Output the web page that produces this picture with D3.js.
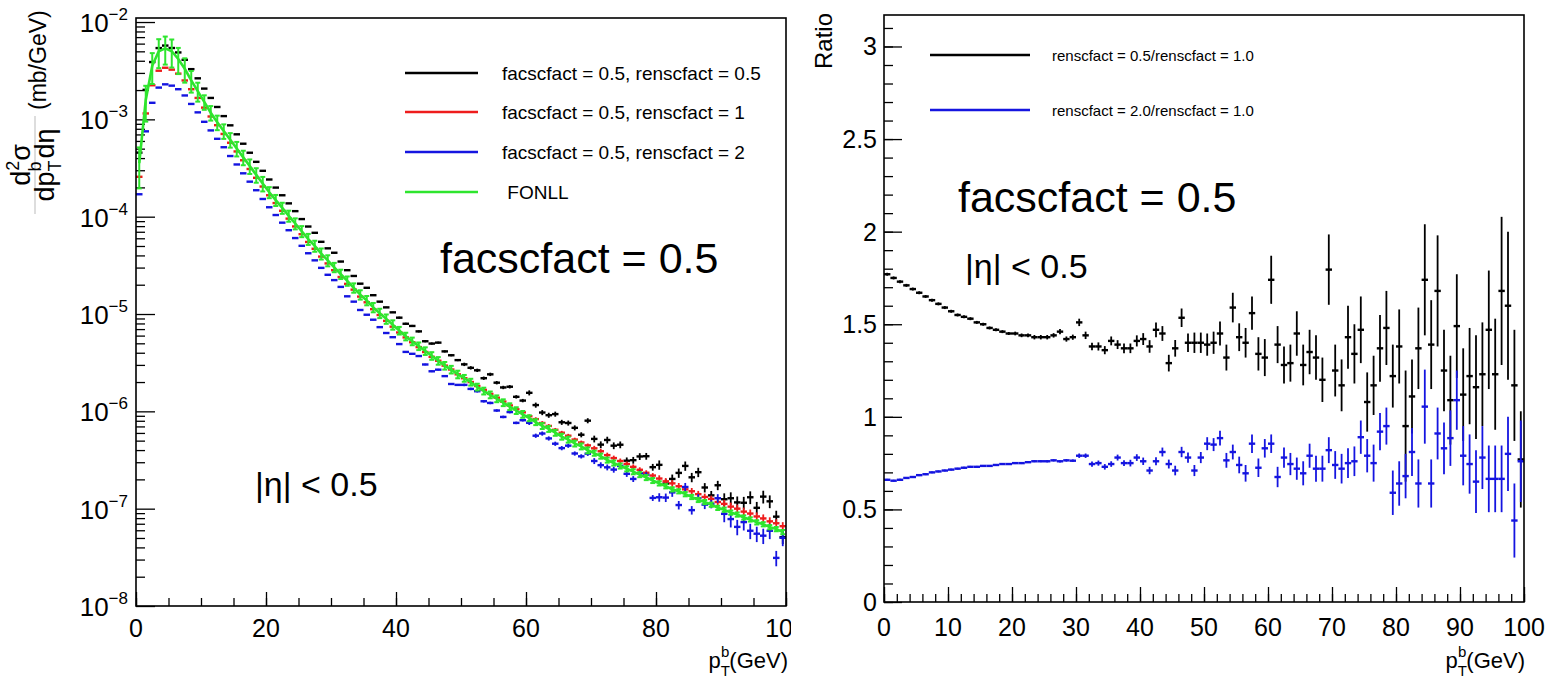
<!DOCTYPE html>
<html>
<head>
<meta charset="utf-8">
<script src="https://cdn.jsdelivr.net/npm/d3@7"></script>
<style>
  body { margin: 0; background: #fff; }
  text { font-family: "Liberation Sans", Arial, sans-serif; fill: #000; }
</style>
</head>
<body>
<div id="chart"></div>
<script>
// ---- data: 1 GeV bins of pT, 0..100 ----
const binLow = d3.range(0, 100);

// d2sigma/dpT deta (mb/GeV), facscfact = 0.5
const blackSpec = [4.55e-4,2.01e-3,3.88e-3,5.40e-3,5.73e-3,5.41e-3,4.87e-3,4.09e-3,3.28e-3,2.64e-3,
  2.07e-3,1.66e-3,1.34e-3,1.08e-3,8.68e-4,7.02e-4,5.62e-4,4.54e-4,3.66e-4,2.96e-4,
  2.41e-4,1.99e-4,1.66e-4,1.37e-4,1.14e-4,9.45e-5,7.92e-5,6.83e-5,5.52e-5,4.73e-5,
  4.26e-5,3.46e-5,2.82e-5,2.46e-5,2.05e-5,1.86e-5,1.56e-5,1.34e-5,1.17e-5,1.04e-5,
  9.17e-6,7.94e-6,7.54e-6,6.63e-6,5.25e-6,4.97e-6,5.08e-6,4.13e-6,3.77e-6,3.36e-6,
  3.04e-6,2.80e-6,2.64e-6,2.19e-6,2.40e-6,1.97e-6,1.76e-6,1.79e-6,1.41e-6,1.29e-6,
  1.55e-6,1.16e-6,9.72e-7,9.13e-7,9.37e-7,7.72e-7,7.59e-7,6.77e-7,5.75e-7,8.02e-7,
  5.21e-7,4.55e-7,5.08e-7,4.44e-7,4.54e-7,3.11e-7,3.15e-7,3.44e-7,3.46e-7,2.67e-7,
  2.82e-7,1.81e-7,2.02e-7,2.33e-7,2.75e-7,2.10e-7,2.37e-7,1.65e-7,1.37e-7,1.74e-7,
  1.25e-7,1.28e-7,1.16e-7,1.15e-7,1.31e-7,1.02e-7,1.33e-7,1.19e-7,8.28e-8,5.09e-8];

const redSpec = [2.57e-4,1.15e-3,2.24e-3,3.16e-3,3.39e-3,3.24e-3,2.95e-3,2.51e-3,2.04e-3,1.66e-3,
  1.32e-3,1.07e-3,8.71e-4,7.08e-4,5.75e-4,4.68e-4,3.80e-4,3.09e-4,2.51e-4,2.04e-4,
  1.66e-4,1.38e-4,1.15e-4,9.55e-5,7.94e-5,6.61e-5,5.50e-5,4.68e-5,3.89e-5,3.31e-5,
  2.82e-5,2.40e-5,2.04e-5,1.78e-5,1.51e-5,1.32e-5,1.12e-5,9.77e-6,8.51e-6,7.41e-6,
  6.46e-6,5.75e-6,5.13e-6,4.57e-6,4.07e-6,3.63e-6,3.31e-6,2.95e-6,2.69e-6,2.40e-6,
  2.19e-6,2.00e-6,1.82e-6,1.66e-6,1.51e-6,1.38e-6,1.26e-6,1.15e-6,1.05e-6,9.77e-7,
  8.91e-7,8.32e-7,7.59e-7,7.08e-7,6.46e-7,6.03e-7,5.62e-7,5.13e-7,4.79e-7,4.47e-7,
  4.17e-7,3.89e-7,3.55e-7,3.31e-7,3.09e-7,2.88e-7,2.69e-7,2.51e-7,2.34e-7,2.19e-7,
  2.04e-7,1.91e-7,1.82e-7,1.70e-7,1.58e-7,1.51e-7,1.41e-7,1.32e-7,1.26e-7,1.17e-7,
  1.12e-7,1.05e-7,1.00e-7,9.33e-8,8.91e-8,8.32e-8,7.94e-8,7.41e-8,7.08e-8,6.61e-8];

const blueSpec = [1.70e-4,7.53e-4,1.48e-3,2.12e-3,2.29e-3,2.22e-3,2.04e-3,1.76e-3,1.44e-3,1.18e-3,
  9.44e-4,7.70e-4,6.31e-4,5.17e-4,4.20e-4,3.44e-4,2.79e-4,2.29e-4,1.87e-4,1.52e-4,
  1.25e-4,1.04e-4,8.68e-5,7.26e-5,6.03e-5,5.02e-5,4.21e-5,3.56e-5,2.98e-5,2.53e-5,
  2.23e-5,1.90e-5,1.52e-5,1.34e-5,1.10e-5,9.83e-6,8.74e-6,7.33e-6,6.38e-6,5.78e-6,
  4.91e-6,4.08e-6,3.90e-6,3.70e-6,3.03e-6,2.58e-6,2.68e-6,2.30e-6,1.91e-6,1.87e-6,
  1.87e-6,1.70e-6,1.61e-6,1.27e-6,1.22e-6,1.02e-6,8.76e-7,9.83e-7,7.61e-7,8.11e-7,
  7.62e-7,5.62e-7,5.92e-7,5.27e-7,4.65e-7,4.19e-7,4.44e-7,3.69e-7,3.45e-7,3.67e-7,
  3.09e-7,2.80e-7,2.66e-7,2.52e-7,2.75e-7,2.28e-7,2.02e-7,2.31e-7,2.22e-7,1.29e-7,
  1.31e-7,1.30e-7,1.47e-7,1.09e-7,1.67e-7,9.66e-8,1.28e-7,1.10e-7,1.12e-7,1.28e-7,
  8.85e-8,7.82e-8,6.50e-8,7.28e-8,5.93e-8,5.53e-8,5.28e-8,5.93e-8,3.12e-8,5.02e-8];

const fonllSpec = [3.55e-4,1.58e-3,3.55e-3,5.01e-3,5.37e-3,5.01e-3,4.17e-3,3.31e-3,2.51e-3,1.95e-3,
  1.51e-3,1.17e-3,9.33e-4,7.59e-4,6.17e-4,5.01e-4,4.07e-4,3.31e-4,2.69e-4,2.19e-4,
  1.78e-4,1.48e-4,1.23e-4,1.02e-4,8.51e-5,7.08e-5,5.89e-5,5.01e-5,4.17e-5,3.55e-5,
  3.02e-5,2.57e-5,2.19e-5,1.86e-5,1.58e-5,1.38e-5,1.17e-5,1.02e-5,8.91e-6,7.76e-6,
  6.76e-6,5.89e-6,5.25e-6,4.68e-6,4.17e-6,3.72e-6,3.31e-6,2.95e-6,2.69e-6,2.40e-6,
  2.19e-6,2.00e-6,1.78e-6,1.62e-6,1.48e-6,1.35e-6,1.23e-6,1.12e-6,1.02e-6,9.33e-7,
  8.51e-7,7.76e-7,7.08e-7,6.61e-7,6.03e-7,5.50e-7,5.13e-7,4.68e-7,4.37e-7,3.98e-7,
  3.72e-7,3.47e-7,3.16e-7,2.95e-7,2.75e-7,2.57e-7,2.40e-7,2.24e-7,2.09e-7,1.95e-7,
  1.82e-7,1.70e-7,1.58e-7,1.51e-7,1.41e-7,1.32e-7,1.23e-7,1.17e-7,1.10e-7,1.02e-7,
  9.77e-8,9.12e-8,8.71e-8,8.13e-8,7.76e-8,7.24e-8,6.92e-8,6.46e-8,6.17e-8,5.75e-8];

// relative errors of the spectra, per group of 10 bins
const blackRelErr = [0.005,0.005,0.008,0.015,0.025,0.04,0.06,0.08,0.11,0.15];
const redRelErr   = [0.004,0.004,0.006,0.012,0.02,0.03,0.045,0.06,0.08,0.1];
const blueRelErr  = [0.004,0.004,0.006,0.012,0.02,0.03,0.05,0.07,0.1,0.18];
const fonllRelErrLow = [0.45,0.4,0.35,0.33,0.32,0.32,0.3,0.28,0.25,0.22];
const fonllRelErr    = [0.3,0.17,0.13,0.11,0.09,0.08,0.07,0.06,0.05,0.05];

// ratios (right panel)
const ratioBlack = [1.77,1.75,1.73,1.71,1.69,1.67,1.65,1.63,1.61,1.59,
  1.57,1.55,1.54,1.53,1.51,1.50,1.48,1.47,1.46,1.45,
  1.45,1.44,1.44,1.43,1.43,1.43,1.44,1.46,1.42,1.43,
  1.51,1.44,1.38,1.38,1.36,1.41,1.39,1.37,1.37,1.41,
  1.42,1.38,1.47,1.45,1.29,1.37,1.535,1.40,1.40,1.40,
  1.39,1.40,1.45,1.32,1.59,1.43,1.40,1.56,1.34,1.32,
  1.74,1.39,1.28,1.29,1.45,1.28,1.35,1.32,1.20,1.795,
  1.25,1.17,1.43,1.34,1.47,1.08,1.17,1.37,1.48,1.22,
  1.38,0.95,1.11,1.37,1.74,1.39,1.68,1.25,1.09,1.49,
  1.12,1.22,1.16,1.23,1.47,1.23,1.68,1.60,1.17,0.77];
const ratioBlackErr = [0.008,0.008,0.008,0.008,0.008,0.008,0.008,0.008,0.008,0.008,
  0.008,0.008,0.008,0.008,0.008,0.008,0.008,0.008,0.008,0.008,
  0.01,0.01,0.01,0.012,0.012,0.012,0.012,0.014,0.014,0.014,
  0.02,0.02,0.02,0.022,0.022,0.024,0.024,0.026,0.026,0.03,
  0.032,0.034,0.04,0.04,0.045,0.045,0.05,0.05,0.055,0.055,
  0.06,0.06,0.065,0.07,0.08,0.075,0.08,0.09,0.09,0.1,
  0.13,0.1,0.1,0.1,0.12,0.11,0.12,0.12,0.12,0.19,
  0.14,0.14,0.17,0.16,0.18,0.16,0.16,0.18,0.2,0.17,
  0.2,0.3,0.2,0.22,0.3,0.24,0.3,0.22,0.24,0.28,
  0.25,0.26,0.28,0.28,0.32,0.3,0.4,0.4,0.3,0.26];
const ratioBlue = [0.66,0.655,0.66,0.67,0.675,0.685,0.69,0.70,0.705,0.71,
  0.715,0.72,0.725,0.73,0.73,0.735,0.735,0.74,0.745,0.745,
  0.75,0.75,0.755,0.76,0.76,0.76,0.765,0.76,0.765,0.763,
  0.79,0.79,0.745,0.75,0.73,0.745,0.78,0.75,0.75,0.78,
  0.76,0.71,0.76,0.81,0.745,0.71,0.81,0.78,0.71,0.78,
  0.855,0.85,0.885,0.765,0.81,0.74,0.695,0.855,0.725,0.83,
  0.855,0.675,0.78,0.745,0.72,0.695,0.79,0.72,0.72,0.82,
  0.74,0.72,0.75,0.76,0.89,0.79,0.75,0.92,0.95,0.59,
  0.64,0.68,0.81,0.64,1.055,0.64,0.91,0.83,0.885,1.09,
  0.79,0.745,0.65,0.78,0.665,0.665,0.665,0.80,0.44,0.76];
const ratioBlueErr = [0.005,0.005,0.005,0.005,0.005,0.005,0.005,0.005,0.005,0.005,
  0.005,0.005,0.005,0.005,0.005,0.005,0.005,0.005,0.005,0.005,
  0.005,0.005,0.005,0.005,0.005,0.006,0.006,0.006,0.007,0.007,
  0.012,0.012,0.014,0.014,0.015,0.015,0.016,0.016,0.018,0.018,
  0.02,0.02,0.022,0.024,0.024,0.026,0.028,0.028,0.03,0.03,
  0.035,0.035,0.04,0.04,0.04,0.045,0.045,0.05,0.05,0.05,
  0.05,0.055,0.055,0.06,0.06,0.065,0.065,0.07,0.07,0.07,
  0.075,0.08,0.08,0.08,0.09,0.09,0.1,0.1,0.1,0.12,
  0.12,0.12,0.13,0.13,0.2,0.13,0.14,0.14,0.15,0.16,
  0.16,0.16,0.17,0.17,0.18,0.18,0.18,0.2,0.2,0.22];

const legendLeft = ["facscfact = 0.5, renscfact = 0.5", "facscfact = 0.5, renscfact = 1",
  "facscfact = 0.5, renscfact = 2", " FONLL"];
const legendRight = ["renscfact = 0.5/renscfact = 1.0", "renscfact = 2.0/renscfact = 1.0"];
const xTicksLeft = [0, 20, 40, 60, 80, 100];
const xTicksRight = [0, 10, 20, 30, 40, 50, 60, 70, 80, 90, 100];
const yTicksRight = [0, 0.5, 1, 1.5, 2, 2.5, 3];
const yDecades = [-8, -7, -6, -5, -4, -3, -2];

const colBlack = "#000000", colRed = "#ee1c1c", colBlue = "#1515e0", colGreen = "#2ee52e";

// ---- svg ----
const svg = d3.select("#chart").append("svg").attr("width", 1553).attr("height", 684);
svg.append("rect").attr("width", 1553).attr("height", 684).attr("fill", "#fff");
svg.append("clipPath").attr("id", "clipL").append("rect")
  .attr("x", 0).attr("y", 0).attr("width", 791).attr("height", 684);

// ---------------- left panel ----------------
const xL = d3.scaleLinear().domain([0, 100]).range([136, 786]);
const yL = d3.scaleLog().domain([1e-8, 1.1e-2]).range([606, 18]);
const gL = svg.append("g").attr("clip-path", "url(#clipL)");

function tickAxis(g, axis) {
  g.call(axis);
  g.select(".domain").remove();
  g.selectAll("line").attr("stroke", "#000").attr("stroke-width", 1.3);
}

// x ticks
tickAxis(gL.append("g").attr("transform", "translate(0,606)"),
  d3.axisBottom(xL).tickValues(d3.range(0, 101, 5)).tickSize(-8).tickFormat(""));
tickAxis(gL.append("g").attr("transform", "translate(0,606)"),
  d3.axisBottom(xL).tickValues(xTicksLeft).tickSize(-14).tickFormat(""));
gL.append("g").selectAll("text").data(xTicksLeft).join("text")
  .attr("x", d => xL(d)).attr("y", 637).attr("text-anchor", "middle")
  .attr("font-size", 25).text(d => d);

// y ticks (log)
const minorLog = [];
yDecades.slice(0, -1).forEach(k => { for (let m = 2; m <= 9; m++) minorLog.push(m * Math.pow(10, k)); });
tickAxis(gL.append("g").attr("transform", "translate(136,0)"),
  d3.axisLeft(yL).tickValues(minorLog).tickSize(-9).tickFormat(""));
tickAxis(gL.append("g").attr("transform", "translate(136,0)"),
  d3.axisLeft(yL).tickValues(yDecades.map(k => Math.pow(10, k))).tickSize(-19).tickFormat(""));
const yLab = gL.append("g").selectAll("text").data(yDecades).join("text")
  .attr("x", 128).attr("y", d => yL(Math.pow(10, d)) + 10)
  .attr("text-anchor", "end").attr("font-size", 26);
yLab.append("tspan").text("10");
yLab.append("tspan").attr("dy", -12).attr("font-size", 17).text(d => "\u2212" + (-d));

// data
function drawHist(g, xs, ys, vals, errOf, color, floor) {
  const grp = g.append("g").attr("stroke", color).attr("fill", "none");
  grp.selectAll("line.h").data(vals).join("line").attr("class", "h")
    .attr("x1", (d, i) => xs(binLow[i])).attr("x2", (d, i) => xs(binLow[i] + 1))
    .attr("y1", d => ys(d)).attr("y2", d => ys(d)).attr("stroke-width", 2.4);
  grp.selectAll("line.v").data(vals).join("line").attr("class", "v")
    .attr("x1", (d, i) => xs(binLow[i] + 0.5)).attr("x2", (d, i) => xs(binLow[i] + 0.5))
    .attr("y1", (d, i) => ys(d + errOf(d, i)))
    .attr("y2", (d, i) => ys(Math.max(d - errOf(d, i), floor)))
    .attr("stroke-width", 1.8);
}

const pad = 1e-9;
drawHist(gL, xL, yL, blackSpec, (d, i) => d * blackRelErr[Math.floor(i / 10)], colBlack, pad);
drawHist(gL, xL, yL, redSpec, (d, i) => d * redRelErr[Math.floor(i / 10)], colRed, pad);
drawHist(gL, xL, yL, blueSpec, (d, i) => d * blueRelErr[Math.floor(i / 10)], colBlue, pad);

// FONLL: line + error bars with caps
const fonllErr = (d, i) => d * (i < 10 ? fonllRelErrLow[i] : fonllRelErr[Math.floor(i / 10)]);
const gF = gL.append("g").attr("stroke", colGreen).attr("fill", "none");
gF.append("path").datum(fonllSpec).attr("stroke-width", 2.6)
  .attr("d", d3.line().x((d, i) => xL(binLow[i] + 0.5)).y(d => yL(d)));
gF.selectAll("line.v").data(fonllSpec).join("line").attr("class", "v")
  .attr("x1", (d, i) => xL(binLow[i] + 0.5)).attr("x2", (d, i) => xL(binLow[i] + 0.5))
  .attr("y1", (d, i) => yL(d + fonllErr(d, i))).attr("y2", (d, i) => yL(d - fonllErr(d, i)))
  .attr("stroke-width", 2);
["up", "dn"].forEach(side => {
  gF.selectAll("line.c" + side).data(fonllSpec).join("line").attr("class", "c" + side)
    .attr("x1", (d, i) => xL(binLow[i] + 0.5) - 2.5).attr("x2", (d, i) => xL(binLow[i] + 0.5) + 2.5)
    .attr("y1", (d, i) => yL(side === "up" ? d + fonllErr(d, i) : d - fonllErr(d, i)))
    .attr("y2", (d, i) => yL(side === "up" ? d + fonllErr(d, i) : d - fonllErr(d, i)))
    .attr("stroke-width", 2);
});

// frame
gL.append("rect").attr("x", 136).attr("y", 18).attr("width", 650).attr("height", 588)
  .attr("fill", "none").attr("stroke", "#000").attr("stroke-width", 1.6);

// legend
const legY = [73, 112, 152, 192];
const legCol = [colBlack, colRed, colBlue, colGreen];
legendLeft.forEach((t, i) => {
  gL.append("line").attr("x1", 405).attr("x2", 478).attr("y1", legY[i]).attr("y2", legY[i])
    .attr("stroke", legCol[i]).attr("stroke-width", 2.6);
  gL.append("text").attr("x", 502).attr("y", legY[i] + 7).attr("font-size", 19)
    .attr("xml:space", "preserve").text(t);
});

gL.append("text").attr("x", 440).attr("y", 273).attr("font-size", 43).text("facscfact = 0.5");
gL.append("text").attr("x", 255).attr("y", 496).attr("font-size", 34).text("|\u03b7| < 0.5");

// axis titles
const xtL = gL.append("text").attr("x", 788).attr("y", 668).attr("text-anchor", "end").attr("font-size", 22);
xtL.append("tspan").text("p");
xtL.append("tspan").attr("dy", 8).attr("font-size", 15).text("T");
xtL.append("tspan").attr("dx", -9).attr("dy", -19).attr("font-size", 15).text("b");
xtL.append("tspan").attr("dy", 11).text("(GeV)");

const ytL = svg.append("g").attr("transform", "translate(35,214) rotate(-90)");
ytL.append("line").attr("x1", 0).attr("x2", 98).attr("y1", 0).attr("y2", 0)
  .attr("stroke", "#bbb").attr("stroke-width", 1);
const num = ytL.append("text").attr("x", 49).attr("y", -5).attr("text-anchor", "middle").attr("font-size", 27);
num.append("tspan").text("d");
num.append("tspan").attr("dy", -11).attr("font-size", 18).text("2");
num.append("tspan").attr("dy", 11).text("\u03c3");
const den = ytL.append("text").attr("x", 49).attr("y", 19).attr("text-anchor", "middle").attr("font-size", 27);
den.append("tspan").text("dp");
den.append("tspan").attr("dy", 7).attr("font-size", 18).text("T");
den.append("tspan").attr("dx", -11).attr("dy", -20).attr("font-size", 18).text("b");
den.append("tspan").attr("dx", 3).attr("dy", 13).text("d\u03b7");
ytL.append("text").attr("x", 104).attr("y", 11).attr("font-size", 23).text("(mb/GeV)");

// ---------------- right panel ----------------
const xR = d3.scaleLinear().domain([0, 100]).range([884, 1524]);
const yR = d3.scaleLinear().domain([0, 3.17]).range([602, 15]);
const gR = svg.append("g");

tickAxis(gR.append("g").attr("transform", "translate(0,602)"),
  d3.axisBottom(xR).tickValues(d3.range(0, 101, 2)).tickSize(-8).tickFormat(""));
tickAxis(gR.append("g").attr("transform", "translate(0,602)"),
  d3.axisBottom(xR).tickValues(xTicksRight).tickSize(-15).tickFormat(""));
gR.append("g").selectAll("text").data(xTicksRight).join("text")
  .attr("x", d => xR(d)).attr("y", 636).attr("text-anchor", "middle")
  .attr("font-size", 25).text(d => d);

tickAxis(gR.append("g").attr("transform", "translate(884,0)"),
  d3.axisLeft(yR).tickValues(d3.range(0, 3.15, 0.1)).tickSize(-9).tickFormat(""));
tickAxis(gR.append("g").attr("transform", "translate(884,0)"),
  d3.axisLeft(yR).tickValues(yTicksRight).tickSize(-18).tickFormat(""));
gR.append("g").selectAll("text").data(yTicksRight).join("text")
  .attr("x", 877).attr("y", d => yR(d) + 9).attr("text-anchor", "end")
  .attr("font-size", 25).text(d => d);

drawHist(gR, xR, yR, ratioBlack, (d, i) => ratioBlackErr[i], colBlack, 0);
drawHist(gR, xR, yR, ratioBlue, (d, i) => ratioBlueErr[i], colBlue, 0);

gR.append("rect").attr("x", 884).attr("y", 15).attr("width", 640).attr("height", 587)
  .attr("fill", "none").attr("stroke", "#000").attr("stroke-width", 1.6);

const legYR = [55, 110];
const legColR = [colBlack, colBlue];
legendRight.forEach((t, i) => {
  gR.append("line").attr("x1", 930).attr("x2", 1030).attr("y1", legYR[i]).attr("y2", legYR[i])
    .attr("stroke", legColR[i]).attr("stroke-width", 2.6);
  gR.append("text").attr("x", 1052).attr("y", legYR[i] + 6).attr("font-size", 15).text(t);
});

gR.append("text").attr("x", 958).attr("y", 212).attr("font-size", 43).text("facscfact = 0.5");
gR.append("text").attr("x", 965).attr("y", 278).attr("font-size", 34).text("|\u03b7| < 0.5");

const xtR = gR.append("text").attr("x", 1525).attr("y", 668).attr("text-anchor", "end").attr("font-size", 22);
xtR.append("tspan").text("p");
xtR.append("tspan").attr("dy", 8).attr("font-size", 15).text("T");
xtR.append("tspan").attr("dx", -9).attr("dy", -19).attr("font-size", 15).text("b");
xtR.append("tspan").attr("dy", 11).text("(GeV)");

gR.append("text").attr("transform", "translate(832,13) rotate(-90)")
  .attr("text-anchor", "end").attr("font-size", 24).text("Ratio");
</script>
</body>
</html>
